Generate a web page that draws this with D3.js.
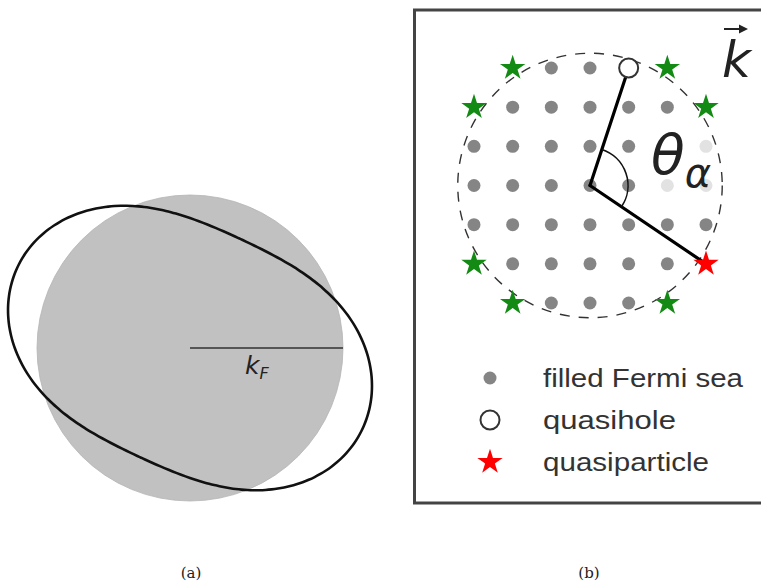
<!DOCTYPE html>
<html>
<head>
<meta charset="utf-8">
<script src="https://cdn.jsdelivr.net/npm/d3@7"></script>
<style>
body{margin:0;background:#fff;}
svg{display:block;}
</style>
</head>
<body>
<svg id="fig" width="761" height="581"></svg>
<script>
// panel (a): Fermi circle radius kF, deformed surface
// r = kF(1 + eps2 cos 2(phi - phi0) + eps4 cos 4(phi - phi0))
var kF = 1;
var deformEps = [0.23, 0.015];
var deformPhi0 = -25;     // degrees

// panel (b): lattice of momentum states, kx,ky in grid units
var gridRange = [-3, -2, -1, 0, 1, 2, 3];
var seaDots = [
  [-1,3],[0,3],
  [-2,2],[-1,2],[0,2],[1,2],[2,2],
  [-3,1],[-2,1],[-1,1],[0,1],[1,1],
  [-3,0],[-2,0],[-1,0],[0,0],[1,0],
  [-3,-1],[-2,-1],[-1,-1],[0,-1],[1,-1],[2,-1],[3,-1],
  [-2,-2],[-1,-2],[0,-2],[1,-2],[2,-2],
  [-1,-3],[0,-3],[1,-3]
];
var fadedDots = [[3,1],[2,0],[3,0]];
var edgeStars = [[-2,3],[2,3],[-3,2],[3,2],[-3,-2],[-2,-3],[2,-3]];
var quasihole = [1,3];
var quasiparticle = [3,-2];
var fermiRadius = 3.42;

var legendLabels = ["filled Fermi sea", "quasihole", "quasiparticle"];
var panelLabels = ["(a)", "(b)"];

var svg = d3.select("#fig");

// ---------- panel (a)
var xA = d3.scaleLinear().domain([0, 1]).range([190, 343]);
var yA = d3.scaleLinear().domain([0, 1]).range([348, 195]);

svg.append("circle")
  .attr("cx", xA(0))
  .attr("cy", yA(0))
  .attr("r", xA(kF) - xA(0))
  .attr("fill", "#c1c1c1")
  .attr("stroke", "#b4b4b4")
  .attr("stroke-width", 0.8);

svg.append("line")
  .attr("x1", xA(0)).attr("y1", yA(0))
  .attr("x2", xA(kF)).attr("y2", yA(0))
  .attr("stroke", "#555")
  .attr("stroke-width", 2);

var kfText = svg.append("text")
  .attr("x", xA(0.36))
  .attr("y", yA(-0.17))
  .attr("font-family", "DejaVu Sans")
  .attr("font-style", "italic")
  .attr("font-size", 25)
  .attr("fill", "#222");
kfText.append("tspan").text("k");
kfText.append("tspan").attr("font-size", 16).attr("dy", 5).text("F");

var phi0 = deformPhi0 * Math.PI / 180;
var deformPts = d3.range(0, 360, 2).map(function(deg)
{
  var t = deg * Math.PI / 180;
  var r = kF * (1 + deformEps[0] * Math.cos(2 * (t - phi0)) + deformEps[1] * Math.cos(4 * (t - phi0)));
  return [r * Math.cos(t), r * Math.sin(t)];
});

svg.append("path")
  .attr("d", d3.line()
    .x(function(d){return xA(d[0]);})
    .y(function(d){return yA(d[1]);})
    .curve(d3.curveCardinalClosed)(deformPts))
  .attr("fill", "none")
  .attr("stroke", "#111")
  .attr("stroke-width", 2.6);

// ---------- panel (b)
svg.append("rect")
  .attr("x", 414.5)
  .attr("y", 10)
  .attr("width", 420)
  .attr("height", 493)
  .attr("fill", "none")
  .attr("stroke", "#444")
  .attr("stroke-width", 3);

var xB = d3.scaleLinear().domain(d3.extent(gridRange)).range([474, 706]);
var yB = d3.scaleLinear().domain(d3.extent(gridRange)).range([303, 68]);
var unit = xB(1) - xB(0);

svg.append("circle")
  .attr("cx", xB(0))
  .attr("cy", yB(0))
  .attr("r", fermiRadius * unit)
  .attr("fill", "none")
  .attr("stroke", "#333")
  .attr("stroke-width", 1.4)
  .attr("stroke-dasharray", "10,9");

svg.selectAll("circle.sea")
  .data(seaDots)
  .enter()
  .append("circle")
  .attr("class", "sea")
  .attr("cx", function(d){return xB(d[0]);})
  .attr("cy", function(d){return yB(d[1]);})
  .attr("r", 6.5)
  .attr("fill", "#858585");

svg.selectAll("circle.faded")
  .data(fadedDots)
  .enter()
  .append("circle")
  .attr("class", "faded")
  .attr("cx", function(d){return xB(d[0]);})
  .attr("cy", function(d){return yB(d[1]);})
  .attr("r", 6.5)
  .attr("fill", "#e2e2e2");

var star = d3.symbol().type(d3.symbolStar).size(200);

svg.selectAll("path.edge")
  .data(edgeStars)
  .enter()
  .append("path")
  .attr("class", "edge")
  .attr("d", star)
  .attr("transform", function(d){return "translate(" + xB(d[0]) + "," + yB(d[1]) + ")";})
  .attr("fill", "#138a13");

// radius vectors and angle
[quasihole, quasiparticle].forEach(function(p)
{
  svg.append("line")
    .attr("x1", xB(0)).attr("y1", yB(0))
    .attr("x2", xB(p[0])).attr("y2", yB(p[1]))
    .attr("stroke", "#000")
    .attr("stroke-width", 3.2)
    .attr("stroke-linecap", "round");
});

var a0 = Math.atan2(yB(quasihole[1]) - yB(0), xB(quasihole[0]) - xB(0));
var a1 = Math.atan2(yB(quasiparticle[1]) - yB(0), xB(quasiparticle[0]) - xB(0));
var arc = d3.path();
arc.arc(xB(0), yB(0), 38, a0, a1, false);
svg.append("path")
  .attr("d", arc.toString())
  .attr("fill", "none")
  .attr("stroke", "#111")
  .attr("stroke-width", 1.6);

svg.append("circle")
  .attr("cx", xB(quasihole[0]))
  .attr("cy", yB(quasihole[1]))
  .attr("r", 9.5)
  .attr("fill", "#fff")
  .attr("stroke", "#333")
  .attr("stroke-width", 2);

svg.append("path")
  .attr("d", star)
  .attr("transform", "translate(" + xB(quasiparticle[0]) + "," + yB(quasiparticle[1]) + ")")
  .attr("fill", "#ff0000");

var theta = svg.append("text")
  .attr("x", xB(1.58))
  .attr("y", yB(0.3))
  .attr("font-family", "DejaVu Sans")
  .attr("font-style", "italic")
  .attr("font-size", 55)
  .attr("fill", "#222");
theta.append("tspan").text("θ");
theta.append("tspan").attr("font-size", 40).attr("dy", 13).text("α");

// k vector label
svg.append("text")
  .attr("x", 722)
  .attr("y", 77)
  .attr("font-family", "DejaVu Sans")
  .attr("font-style", "italic")
  .attr("font-size", 50)
  .attr("fill", "#222")
  .text("k");

svg.append("line")
  .attr("x1", 724).attr("y1", 29)
  .attr("x2", 742).attr("y2", 29)
  .attr("stroke", "#222")
  .attr("stroke-width", 2);
svg.append("path")
  .attr("d", "M748,29 L739,24.5 L739,33.5 Z")
  .attr("fill", "#222");

// legend
var legY = d3.scalePoint().domain(legendLabels).range([378, 462]);
var legend = svg.selectAll("g.leg")
  .data(legendLabels)
  .enter()
  .append("g")
  .attr("class", "leg")
  .attr("transform", function(d){return "translate(490," + legY(d) + ")";});

legend.filter(function(d,i){return i == 0;})
  .append("circle").attr("r", 6.5).attr("fill", "#858585");
legend.filter(function(d,i){return i == 1;})
  .append("circle").attr("r", 9.5).attr("fill", "#fff")
  .attr("stroke", "#333").attr("stroke-width", 2);
legend.filter(function(d,i){return i == 2;})
  .append("path").attr("d", star).attr("fill", "#ff0000");

var legWidths = [200, 133, 166];
legend.append("text")
  .attr("x", 53)
  .attr("y", 9)
  .attr("font-family", "Liberation Sans, Arial, sans-serif")
  .attr("font-size", 25)
  .attr("fill", "#333")
  .attr("textLength", function(d,i){return legWidths[i];})
  .attr("lengthAdjust", "spacingAndGlyphs")
  .text(function(d){return d;});

// panel captions
var capX = d3.scalePoint().domain(panelLabels).range([191, 589]);
svg.selectAll("text.cap")
  .data(panelLabels)
  .enter()
  .append("text")
  .attr("class", "cap")
  .attr("x", function(d){return capX(d);})
  .attr("y", 578)
  .attr("text-anchor", "middle")
  .attr("font-family", "DejaVu Serif")
  .attr("font-size", 15)
  .attr("fill", "#222")
  .text(function(d){return d;});
</script>
</body>
</html>
